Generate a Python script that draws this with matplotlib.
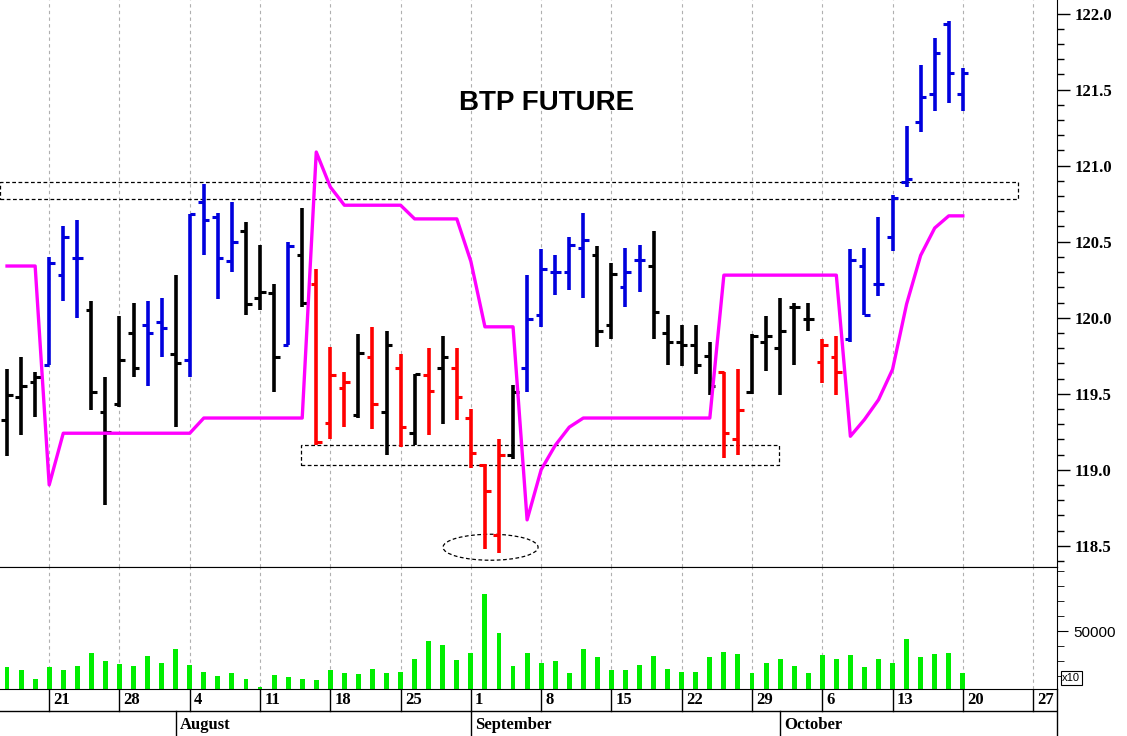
import matplotlib
matplotlib.use("Agg")
import matplotlib.pyplot as plt
from matplotlib.patches import Rectangle, Ellipse
import numpy as np

highs = [119.66,119.74,119.64,120.40,120.60,120.64,120.11,119.61,120.01,120.10,120.11,120.13,120.28,120.68,120.88,120.69,120.76,120.63,120.48,120.22,120.50,120.72,
         120.32,119.81,119.64,119.89,119.94,119.91,119.76,119.63,119.80,119.88,119.80,119.40,119.04,119.20,119.56,120.28,120.45,120.41,120.53,120.69,120.47,120.36,
         120.46,120.48,120.57,120.02,119.95,119.95,119.84,119.64,119.66,119.89,120.01,120.13,120.10,120.10,119.86,119.88,120.45,120.46,120.66,120.81,121.26,121.66,121.84,121.95,121.64]
lows = [119.09,119.23,119.35,119.69,120.11,120.00,119.39,118.77,119.41,119.61,119.55,119.74,119.28,119.61,120.41,120.12,120.30,120.02,120.05,119.51,119.82,120.07,
        119.16,119.20,119.28,119.34,119.27,119.10,119.15,119.16,119.23,119.30,119.33,119.01,118.48,118.45,119.07,119.51,119.94,120.15,120.18,120.13,119.81,119.86,
        120.07,120.17,119.86,119.69,119.68,119.63,119.49,119.08,119.10,119.50,119.65,119.49,119.69,119.91,119.57,119.49,119.84,120.02,120.14,120.44,120.86,121.22,121.36,121.41,121.36]
opens = [119.33,119.48,119.58,119.69,120.28,120.39,120.05,119.38,119.43,119.90,119.95,119.97,119.76,119.72,120.76,120.66,120.37,120.57,120.13,120.16,119.82,120.41,
         120.22,119.31,119.54,119.36,119.74,119.38,119.67,119.24,119.62,119.67,119.67,119.34,119.03,118.57,119.10,119.67,120.02,120.30,120.30,120.46,120.41,119.95,
         120.20,120.38,120.34,119.90,119.84,119.82,119.75,119.64,119.20,119.51,119.84,119.80,120.07,119.99,119.71,119.74,119.86,120.34,120.22,120.53,120.89,121.29,121.47,121.93,121.47]
closes = [119.49,119.55,119.61,120.36,120.53,120.39,119.51,119.25,119.72,119.67,119.90,119.93,119.70,120.68,120.64,120.39,120.50,120.09,120.17,119.74,120.47,120.10,
          119.18,119.62,119.58,119.77,119.43,119.82,119.28,119.63,119.52,119.74,119.48,119.11,118.86,119.10,119.51,119.99,120.32,120.30,120.48,120.51,119.91,120.29,
          120.30,120.38,120.04,119.84,119.82,119.69,119.55,119.24,119.39,119.88,119.88,119.91,120.07,119.99,119.82,119.64,120.38,120.02,120.22,120.79,120.91,121.45,121.74,121.61,121.61]
bar_colors = list("kkkbbbkkkkbbkbbbbkkkbkrrrkrkrkrkrrrrkbbbbbkkbbkkkkkrrkkkkkrrbbbbbbbbb")
stop_line = [120.34,120.34,120.34,118.90] + [119.24]*10 + [119.34]*8 + [121.09,120.86] + [120.74]*5 + [120.65]*4 + [120.37] + [119.94]*3 + \
            [118.67,119.00,119.16,119.28] + [119.34]*10 + [120.28]*9 + [119.22,119.33,119.46,119.66,120.09,120.41,120.59,120.67,120.67]
volume = [26250,24470,18480,26250,24470,27130,35570,30020,28020,27130,33790,28910,38450,27800,23140,20470,22250,18480,12930,21140,19590,18480,
          17370,24470,22250,21360,25130,22250,23140,31800,43340,41120,31130,35570,74860,48890,27130,35570,28910,30020,22250,38230,32910,24470,
          24470,27800,33790,25130,23140,23140,32910,36460,34900,22250,28910,31570,27130,22250,34460,31570,34460,26250,31570,28910,44890,32910,34900,35570,22250]
week_labels = ["21","28","4","11","18","25","1","8","15","22","29","6","13","20","27"]
week_idx = [3,8,13,18,23,28,33,38,43,48,53,58,63,68,73]
months = ["August","September","October"]
month_idx = [12,33,55]

colmap = {"k": "black", "b": "#0000DD", "r": "#FF0000"}
W, H = 1127, 736
fig = plt.figure(figsize=(W/100, H/100), dpi=100)
xl = (-0.5, 74.7)
R = 1057/W
ax = fig.add_axes([0, 1-567/H, R, 567/H])
axv = fig.add_axes([0, 1-689/H, R, 122/H])
axd = fig.add_axes([0, 0, R, 47/H])

n = len(highs)
x = np.arange(n)
cols = [colmap[c] for c in bar_colors]
ax.vlines(x, lows, highs, colors=cols, lw=2.6)
ax.hlines(opens, x-0.4, x, colors=cols, lw=2.2)
ax.hlines(closes, x, x+0.4, colors=cols, lw=2.2)
ax.plot(x, stop_line, color="#FF00FF", lw=2.4)
ax.set_xlim(*xl)
ax.set_ylim(118.36, 122.09)
for wi in week_idx:
    ax.axvline(wi, color="#b0b0b0", ls=(0, (3, 3)), lw=0.8, zorder=0)
    axv.axvline(wi, color="#b0b0b0", ls=(0, (3, 3)), lw=0.8, zorder=0)
ax.add_patch(Rectangle((-0.5, 120.78), 72.4, 0.11, fill=False, ls=(0, (3, 2)), lw=0.9, ec="black"))
ax.add_patch(Rectangle((20.9, 119.03), 34.0, 0.13, fill=False, ls=(0, (3, 2)), lw=0.9, ec="black"))
ax.add_patch(Ellipse((34.4, 118.49), 6.76, 0.171, fill=False, ls=(0, (3, 2)), lw=0.9, ec="black"))
ax.text(38.4, 121.41, "BTP FUTURE", fontsize=20, fontweight="bold", family="Liberation Sans", ha="center", va="center")
ax.yaxis.tick_right()
ax.set_yticks([118.5, 119.0, 119.5, 120.0, 120.5, 121.0, 121.5, 122.0])
ax.set_yticklabels([f"{v:.1f}" for v in [118.5, 119.0, 119.5, 120.0, 120.5, 121.0, 121.5, 122.0]],
                   family="Liberation Serif", fontweight="bold", fontsize=12)
ax.set_yticks(np.arange(118.4, 122.05, 0.1), minor=True)
ax.tick_params(axis="y", which="major", length=9, width=1)
ax.tick_params(axis="y", which="minor", length=5, width=1)
ax.set_xticks([])
for s in ["left", "top"]:
    ax.spines[s].set_visible(False)

axv.bar(x, volume, width=0.35, color="#00EE00")
axv.set_xlim(*xl)
axv.set_ylim(11600, 93000)
axv.yaxis.tick_right()
axv.set_yticks([50000])
axv.set_yticklabels(["50000"], family="Liberation Sans", fontsize=11)
axv.set_yticks(np.arange(20000, 93000, 10000), minor=True)
axv.tick_params(axis="y", which="major", length=8)
axv.tick_params(axis="y", which="minor", length=5)
axv.set_xticks([])
for s in ["left"]:
    axv.spines[s].set_visible(False)
axv.text(1.005, 0.05, "x10", transform=axv.transAxes, fontsize=8, family="Liberation Sans",
         va="bottom", ha="left", bbox=dict(boxstyle="square,pad=0.15", fc="white", ec="black", lw=0.8), clip_on=False)

axd.set_xlim(*xl)
axd.set_ylim(0, 47)
axd.axis("off")
axd.axhline(25, color="black", lw=1)
for wi, lab in zip(week_idx, week_labels):
    axd.plot([wi, wi], [25, 47], color="black", lw=1)
    axd.text(wi + 0.3, 36, lab, family="Liberation Serif", fontweight="bold", fontsize=12, va="center", ha="left")
for mi, lab in zip(month_idx, months):
    axd.plot([mi, mi], [0, 25], color="black", lw=1)
    axd.text(mi + 0.3, 11, lab, family="Liberation Serif", fontweight="bold", fontsize=12, va="center", ha="left")
fig.add_artist(plt.Line2D([R, R], [0, 47/H], color="black", lw=1))
fig.savefig("out.png", dpi=100)
